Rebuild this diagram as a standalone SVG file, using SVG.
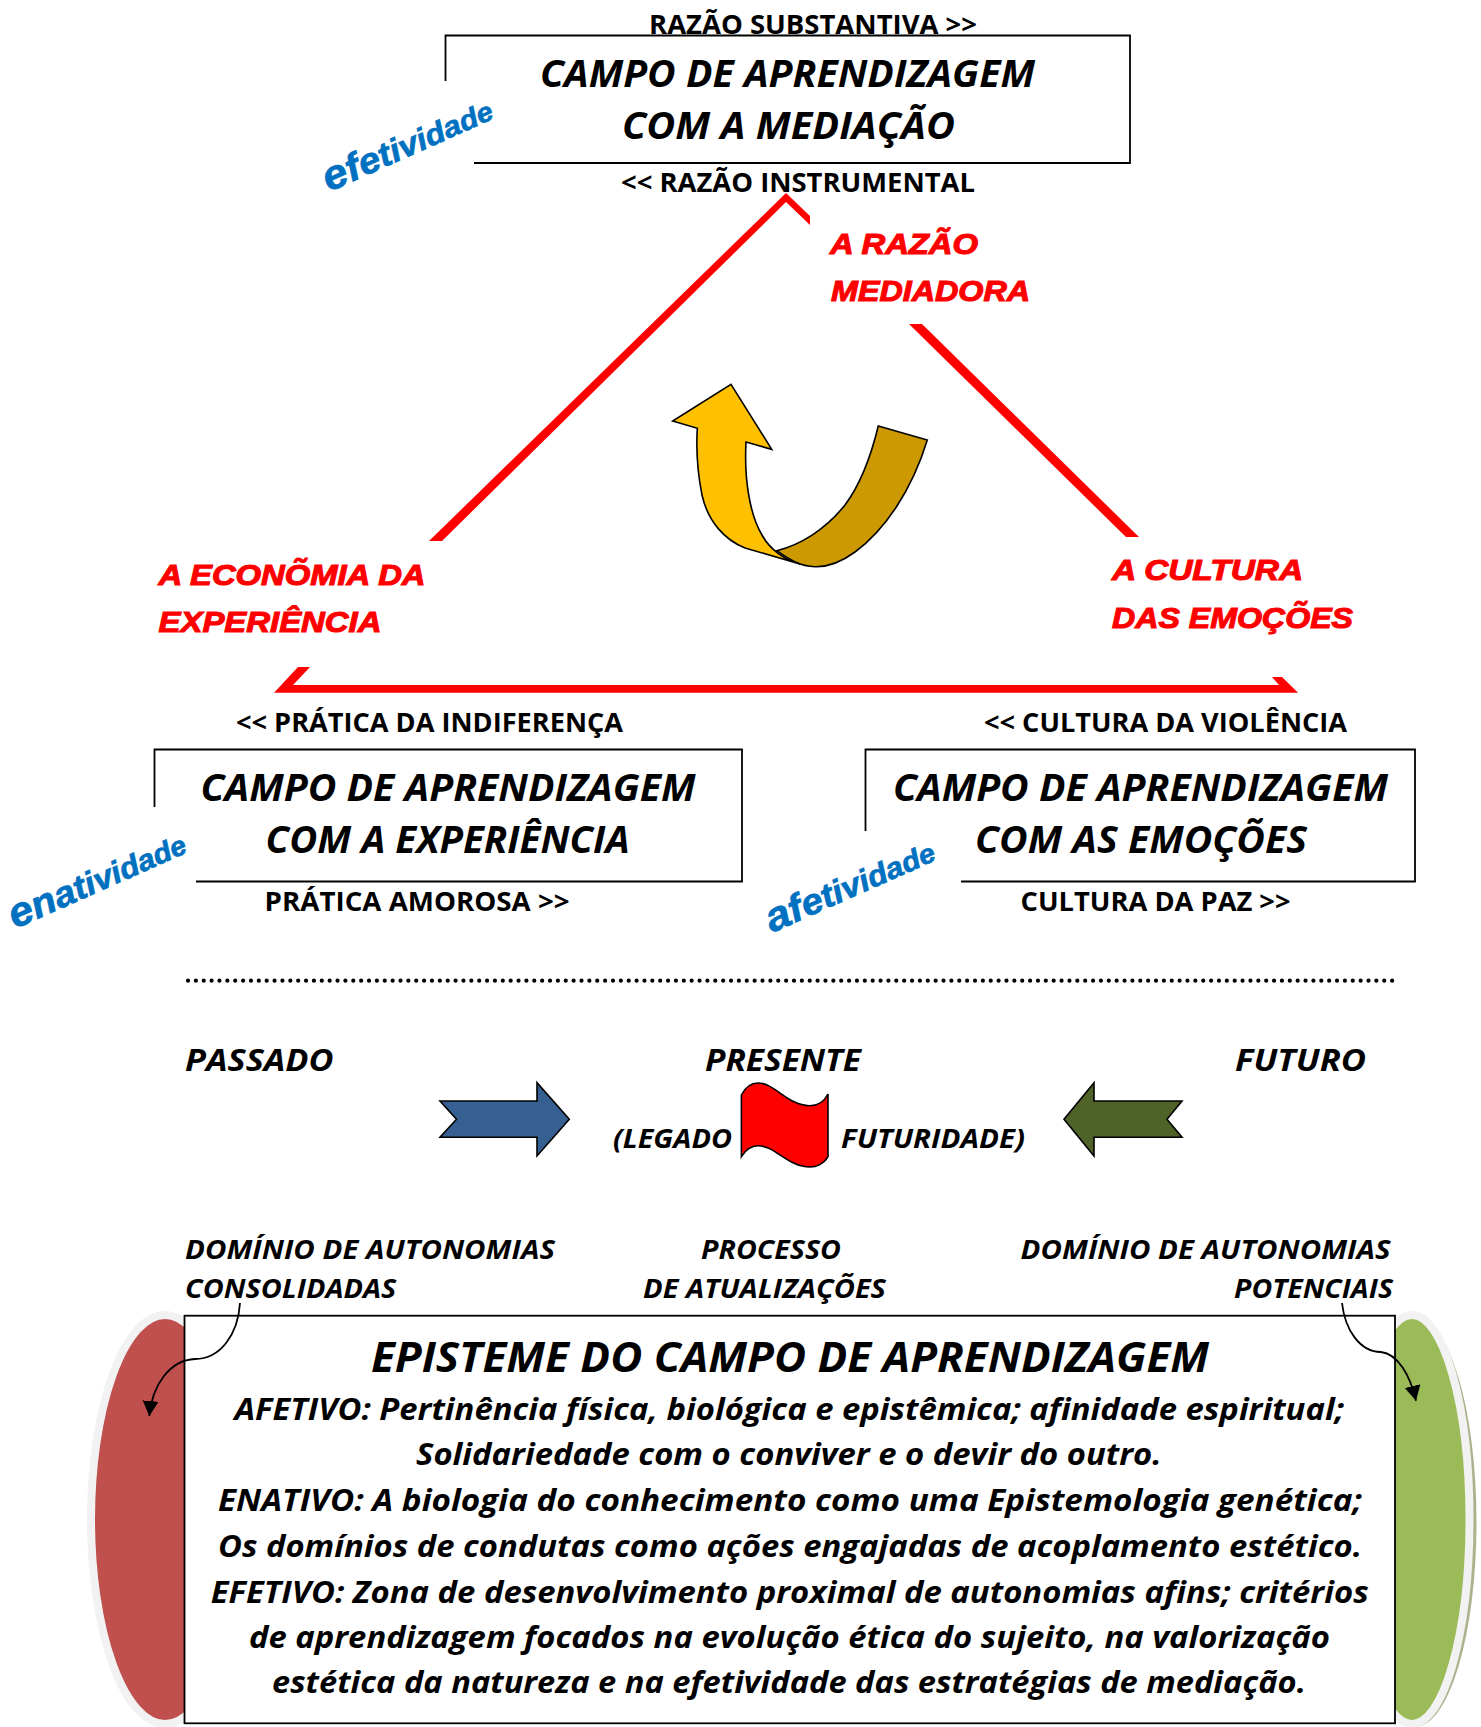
<svg xmlns="http://www.w3.org/2000/svg" width="1481" height="1727" viewBox="0 0 1481 1727">
<style>
text{font-family:"Open Sans","Noto Sans","Liberation Sans",sans-serif;fill:#000;font-weight:700}
.it{font-style:italic}
.t{font-style:italic;font-size:38px}
.l{font-size:26px}
.m{font-style:italic;font-size:27px}
.h{font-style:italic;font-size:30px}
.b{font-style:italic;font-size:31px}
.r{font-family:"Liberation Sans",Arial,sans-serif;font-style:italic;font-size:29px;fill:#f00;stroke:#f00;stroke-width:1.1}
.w{font-family:"Liberation Sans",Arial,sans-serif;font-style:italic;fill:#0070c0;font-weight:700;stroke:#0070c0;stroke-width:.7}
.box{fill:none;stroke:#000;stroke-width:1.8}
.sh{stroke:#000;stroke-width:1.6;stroke-linejoin:miter}
.red{fill:#f00}
</style>
<defs>
<marker id="ah" markerUnits="userSpaceOnUse" markerWidth="18" markerHeight="18" refX="15" refY="8" orient="auto"><path d="M0 0L15 8L0 16Z" fill="#000"/></marker>
</defs>
<rect width="1481" height="1727" fill="#fff"/>

<g id="triangle">
<path class="red" d="M786 193L810 216V225L786 202L442 541H429Z"/>
<path class="red" d="M909 324H922L1139 537H1126Z"/>
<path class="red" d="M274 692.7L298 667H310L293 685H1279L1272 677H1282L1298 692.7Z"/>
</g>

<g id="node-mediacao">
<path class="box" d="M445.5 81V35.5H1130V163H474"/>
<text class="l" x="649" y="33.5" textLength="328" lengthAdjust="spacingAndGlyphs">RAZÃO SUBSTANTIVA &gt;&gt;</text>
<text class="t" x="540" y="86.7" textLength="495" lengthAdjust="spacingAndGlyphs">CAMPO DE APRENDIZAGEM</text>
<text class="t" x="622" y="138.8" textLength="333" lengthAdjust="spacingAndGlyphs">COM A MEDIAÇÃO</text>
<text class="l" x="621" y="191.7" textLength="354" lengthAdjust="spacingAndGlyphs">&lt;&lt; RAZÃO INSTRUMENTAL</text>
<text class="w" transform="translate(329 192) rotate(-24)" textLength="182" lengthAdjust="spacingAndGlyphs"><tspan font-size="41">e</tspan><tspan font-size="38">f</tspan><tspan font-size="36">e</tspan><tspan font-size="34">t</tspan><tspan font-size="33">i</tspan><tspan font-size="32">v</tspan><tspan font-size="31">i</tspan><tspan font-size="30">d</tspan><tspan font-size="29">a</tspan><tspan font-size="28">d</tspan><tspan font-size="27">e</tspan></text>
</g>

<g id="node-experiencia">
<path class="box" d="M154.5 807V749.5H742V881.5H196"/>
<text class="l" x="236" y="731.7" textLength="387" lengthAdjust="spacingAndGlyphs">&lt;&lt; PRÁTICA DA INDIFERENÇA</text>
<text class="t" x="200.6" y="800.5" textLength="495" lengthAdjust="spacingAndGlyphs">CAMPO DE APRENDIZAGEM</text>
<text class="t" x="265.6" y="853" textLength="364" lengthAdjust="spacingAndGlyphs">COM A EXPERIÊNCIA</text>
<text class="l" x="264.6" y="910.5" textLength="305" lengthAdjust="spacingAndGlyphs">PRÁTICA AMOROSA &gt;&gt;</text>
<text class="w" transform="translate(15 929) rotate(-24)" textLength="190" lengthAdjust="spacingAndGlyphs"><tspan font-size="41">e</tspan><tspan font-size="38">n</tspan><tspan font-size="36">a</tspan><tspan font-size="34">t</tspan><tspan font-size="33">i</tspan><tspan font-size="32">v</tspan><tspan font-size="31">i</tspan><tspan font-size="30">d</tspan><tspan font-size="29">a</tspan><tspan font-size="28">d</tspan><tspan font-size="27">e</tspan></text>
</g>

<g id="node-emocoes">
<path class="box" d="M865.5 831V749.5H1415V881.5H961"/>
<text class="l" x="984" y="731.7" textLength="363" lengthAdjust="spacingAndGlyphs">&lt;&lt; CULTURA DA VIOLÊNCIA</text>
<text class="t" x="893" y="800.5" textLength="495" lengthAdjust="spacingAndGlyphs">CAMPO DE APRENDIZAGEM</text>
<text class="t" x="975" y="853" textLength="332" lengthAdjust="spacingAndGlyphs">COM AS EMOÇÕES</text>
<text class="l" x="1020.6" y="910.5" textLength="270" lengthAdjust="spacingAndGlyphs">CULTURA DA PAZ &gt;&gt;</text>
<text class="w" transform="translate(772 933) rotate(-24)" textLength="181" lengthAdjust="spacingAndGlyphs"><tspan font-size="41">a</tspan><tspan font-size="38">f</tspan><tspan font-size="36">e</tspan><tspan font-size="34">t</tspan><tspan font-size="33">i</tspan><tspan font-size="32">v</tspan><tspan font-size="31">i</tspan><tspan font-size="30">d</tspan><tspan font-size="29">a</tspan><tspan font-size="28">d</tspan><tspan font-size="27">e</tspan></text>
</g>

<g id="labels-red">
<text class="r" x="830" y="254" textLength="148" lengthAdjust="spacingAndGlyphs">A RAZÃO</text>
<text class="r" x="831" y="301" textLength="199" lengthAdjust="spacingAndGlyphs">MEDIADORA</text>
<text class="r" x="158.5" y="584.6" textLength="267" lengthAdjust="spacingAndGlyphs">A ECONÕMIA DA</text>
<text class="r" x="158.5" y="632" textLength="223" lengthAdjust="spacingAndGlyphs">EXPERIÊNCIA</text>
<text class="r" x="1112" y="580" textLength="191" lengthAdjust="spacingAndGlyphs">A CULTURA</text>
<text class="r" x="1112" y="627.6" textLength="241" lengthAdjust="spacingAndGlyphs">DAS EMOÇÕES</text>
</g>

<g id="cycle-arrow">
<path class="sh" fill="#cc9a00" d="M878.3 426L927.3 440C912 490 885 530 855 552C840 563 825 567 815 566.7C800 566 790 560 776.7 550.7C800 545 825 530 845 505C860 485 870 460 878.3 426Z"/>
<path class="sh" fill="#ffc000" d="M731 384.3L771.7 449.3L746 442C744 480 750 515 762 535C770 550 785 560 800 564L745 548C725 540 708 522 702 495C697 470 696 450 697.3 428.3L672.7 421Z"/>
</g>

<line id="divider" x1="188" y1="980.7" x2="1396" y2="980.7" stroke="#000" stroke-width="4.2" stroke-linecap="round" stroke-dasharray="0 7.87"/>

<g id="node-tempo">
<text class="h" x="185" y="1071" textLength="148.6" lengthAdjust="spacingAndGlyphs">PASSADO</text>
<text class="h" x="705" y="1071" textLength="156" lengthAdjust="spacingAndGlyphs">PRESENTE</text>
<text class="h" x="1235" y="1071" textLength="131" lengthAdjust="spacingAndGlyphs">FUTURO</text>
<text class="m" x="613" y="1148" textLength="119" lengthAdjust="spacingAndGlyphs">(LEGADO</text>
<text class="m" x="841" y="1148" textLength="184" lengthAdjust="spacingAndGlyphs">FUTURIDADE)</text>
<path class="sh" fill="#376092" d="M440 1101H537V1082.7L569.3 1119.3L537 1156V1137.3H440L456.5 1119.3Z"/>
<path class="sh" fill="#4f6228" d="M1182 1101H1094V1082.7L1064 1119.3L1094 1156V1137.3H1182L1167 1119.3Z"/>
<path class="sh" fill="#f00" d="M741.4 1095C746 1086 752 1083 758 1083C775 1083 788 1106 810 1105.7C818 1105.7 824 1102 828 1094V1156.7C824 1164 816 1167 810 1167C788 1167 775 1145.7 758 1145.7C752 1145.7 746 1149 741.4 1156.7Z"/>
<text class="m" x="185" y="1258.5" textLength="370" lengthAdjust="spacingAndGlyphs">DOMÍNIO DE AUTONOMIAS</text>
<text class="m" x="185" y="1297.5" textLength="211.4" lengthAdjust="spacingAndGlyphs">CONSOLIDADAS</text>
<text class="m" x="701" y="1258.5" textLength="140" lengthAdjust="spacingAndGlyphs">PROCESSO</text>
<text class="m" x="643" y="1297.5" textLength="243" lengthAdjust="spacingAndGlyphs">DE ATUALIZAÇÕES</text>
<text class="m" x="1020.6" y="1258.5" textLength="370" lengthAdjust="spacingAndGlyphs">DOMÍNIO DE AUTONOMIAS</text>
<text class="m" x="1234" y="1297.5" textLength="159" lengthAdjust="spacingAndGlyphs">POTENCIAIS</text>
</g>

<g id="node-passado-oval">
<ellipse cx="167" cy="1522" rx="75" ry="205" fill="#c0a0a0"/>
<ellipse cx="165" cy="1519.5" rx="74" ry="204.5" fill="#c0504d" stroke="#f2f2f2" stroke-width="8"/>
</g>
<g id="node-futuro-oval">
<ellipse cx="1414.5" cy="1522" rx="62" ry="205" fill="#a9b48c"/>
<ellipse cx="1412" cy="1519.5" rx="57.5" ry="204.5" fill="#9bbb59" stroke="#f2f2f2" stroke-width="8"/>
</g>

<g id="node-episteme">
<rect x="184.5" y="1315.7" width="1210.5" height="407.6" fill="#fff" stroke="#000" stroke-width="1.8"/>
<text class="it" font-size="41" x="371" y="1372" textLength="838" lengthAdjust="spacingAndGlyphs">EPISTEME DO CAMPO DE APRENDIZAGEM</text>
<text class="b" x="234.5" y="1420" textLength="1109.5" lengthAdjust="spacingAndGlyphs">AFETIVO: Pertinência física, biológica e epistêmica; afinidade espiritual;</text>
<text class="b" x="416" y="1465" textLength="745.6" lengthAdjust="spacingAndGlyphs">Solidariedade com o conviver e o devir do outro.</text>
<text class="b" x="218" y="1511" textLength="1144" lengthAdjust="spacingAndGlyphs">ENATIVO: A biologia do conhecimento como uma Epistemologia genética;</text>
<text class="b" x="218" y="1556.7" textLength="1144" lengthAdjust="spacingAndGlyphs">Os domínios de condutas como ações engajadas de acoplamento estético.</text>
<text class="b" x="210.7" y="1602.7" textLength="1158" lengthAdjust="spacingAndGlyphs">EFETIVO: Zona de desenvolvimento proximal de autonomias afins; critérios</text>
<text class="b" x="249" y="1648" textLength="1081" lengthAdjust="spacingAndGlyphs">de aprendizagem focados na evolução ética do sujeito, na valorização</text>
<text class="b" x="272" y="1693" textLength="1034" lengthAdjust="spacingAndGlyphs">estética da natureza e na efetividade das estratégias de mediação.</text>
</g>

<g id="connectors" fill="none" stroke="#000" stroke-width="1.8">
<path marker-end="url(#ah)" d="M240 1303C238 1335 220 1359 195 1359C170 1360 152 1385 149.3 1416"/>
<path marker-end="url(#ah)" d="M1342 1303C1345 1330 1360 1352 1381 1352C1398 1354 1410 1375 1416 1400.7"/>
</g>
</svg>
